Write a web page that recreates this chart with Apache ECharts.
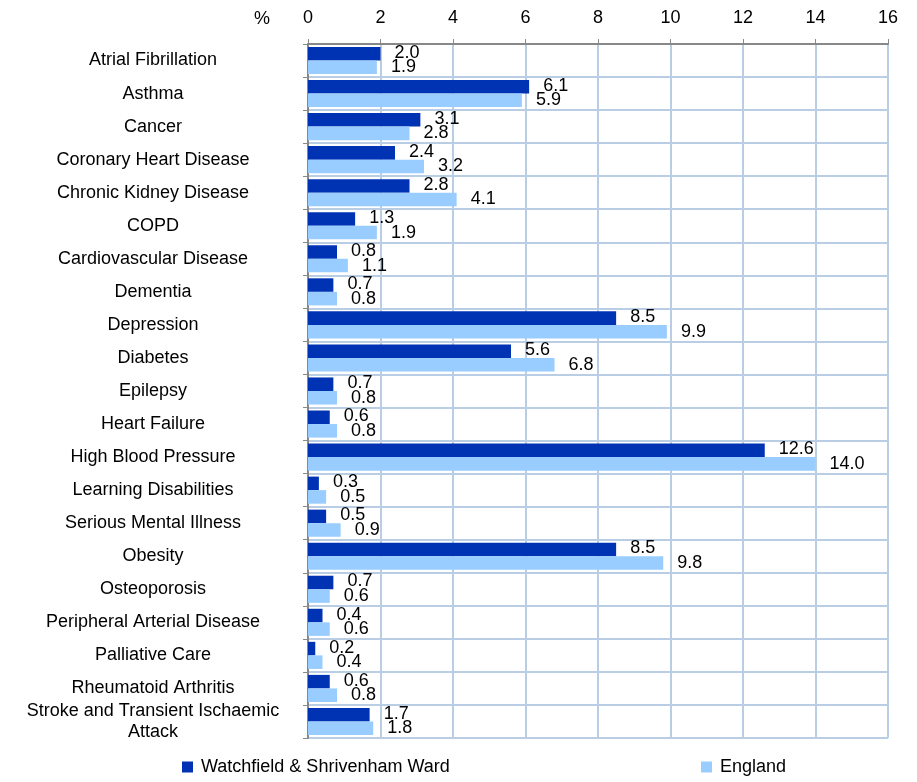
<!DOCTYPE html>
<html><head><meta charset="utf-8">
<script src="https://cdn.jsdelivr.net/npm/echarts@6/dist/echarts.min.js"></script>
<style>html,body{margin:0;padding:0;background:#fff}#c{width:917px;height:782px}</style>
</head><body><div id="c"></div>
<script>
const categories = ["Atrial Fibrillation","Asthma","Cancer","Coronary Heart Disease","Chronic Kidney Disease","COPD","Cardiovascular Disease","Dementia","Depression","Diabetes","Epilepsy","Heart Failure","High Blood Pressure","Learning Disabilities","Serious Mental Illness","Obesity","Osteoporosis","Peripheral Arterial Disease","Palliative Care","Rheumatoid Arthritis","Stroke and Transient Ischaemic\nAttack"];
const wardValues = [2.0,6.1,3.1,2.4,2.8,1.3,0.8,0.7,8.5,5.6,0.7,0.6,12.6,0.3,0.5,8.5,0.7,0.4,0.2,0.6,1.7];
const englandValues = [1.9,5.9,2.8,3.2,4.1,1.9,1.1,0.8,9.9,6.8,0.8,0.8,14.0,0.5,0.9,9.8,0.6,0.6,0.4,0.8,1.8];
const seriesNames = ["Watchfield & Shrivenham Ward","England"];
const FONT = "Liberation Sans, Arial, sans-serif";
const FS = 18;
const chart = echarts.init(document.getElementById('c'));
const lbl = {show:true, position:'right', distance:14, color:'#000', fontFamily:FONT, fontSize:FS, formatter:p=>p.value.toFixed(1)};
chart.setOption({
  animation:false,
  textStyle:{fontFamily:FONT},
  grid:{left:308, right:29, top:44, bottom:44},
  xAxis:{type:'value', position:'top', min:0, max:16, interval:2,
    name:'%', nameLocation:'start', nameGap:38, nameTextStyle:{color:'#000', fontSize:FS, fontFamily:FONT, verticalAlign:'bottom', padding:[0,0,16,0]},
    axisLine:{show:true, lineStyle:{color:'#888', width:2}},
    axisTick:{show:true, length:5, lineStyle:{color:'#888'}},
    axisLabel:{color:'#000', fontSize:FS, fontFamily:FONT, margin:17},
    splitLine:{show:true, lineStyle:{color:'#b9cde5', width:2}}},
  yAxis:{type:'category', data:categories, inverse:true,
    axisLine:{show:true, lineStyle:{color:'#888', width:2}},
    axisTick:{show:true, length:5, lineStyle:{color:'#888'}},
    axisLabel:{color:'#000', fontSize:FS, fontFamily:FONT, margin:155, align:'center', lineHeight:21},
    splitLine:{show:true, lineStyle:{color:'#b9cde5', width:2}}},
  legend:[
    {data:[seriesNames[0]], left:177, bottom:1, itemWidth:11, itemHeight:11, icon:'rect', textStyle:{fontSize:FS, color:'#000', fontFamily:FONT, padding:[0,0,0,3]}},
    {data:[seriesNames[1]], left:696, bottom:1, itemWidth:11, itemHeight:11, icon:'rect', textStyle:{fontSize:FS, color:'#000', fontFamily:FONT, padding:[0,0,0,3]}}
  ],
  series:[
    {name:seriesNames[0], type:'bar', data:wardValues, barGap:'0%', barCategoryGap:'18%', itemStyle:{color:'#0033b4'}, label:Object.assign({}, lbl, {offset:[0,-1]})},
    {name:seriesNames[1], type:'bar', data:englandValues, itemStyle:{color:'#99ccff'}, label:Object.assign({}, lbl, {offset:[0,0]})}
  ]
});
</script></body></html>
